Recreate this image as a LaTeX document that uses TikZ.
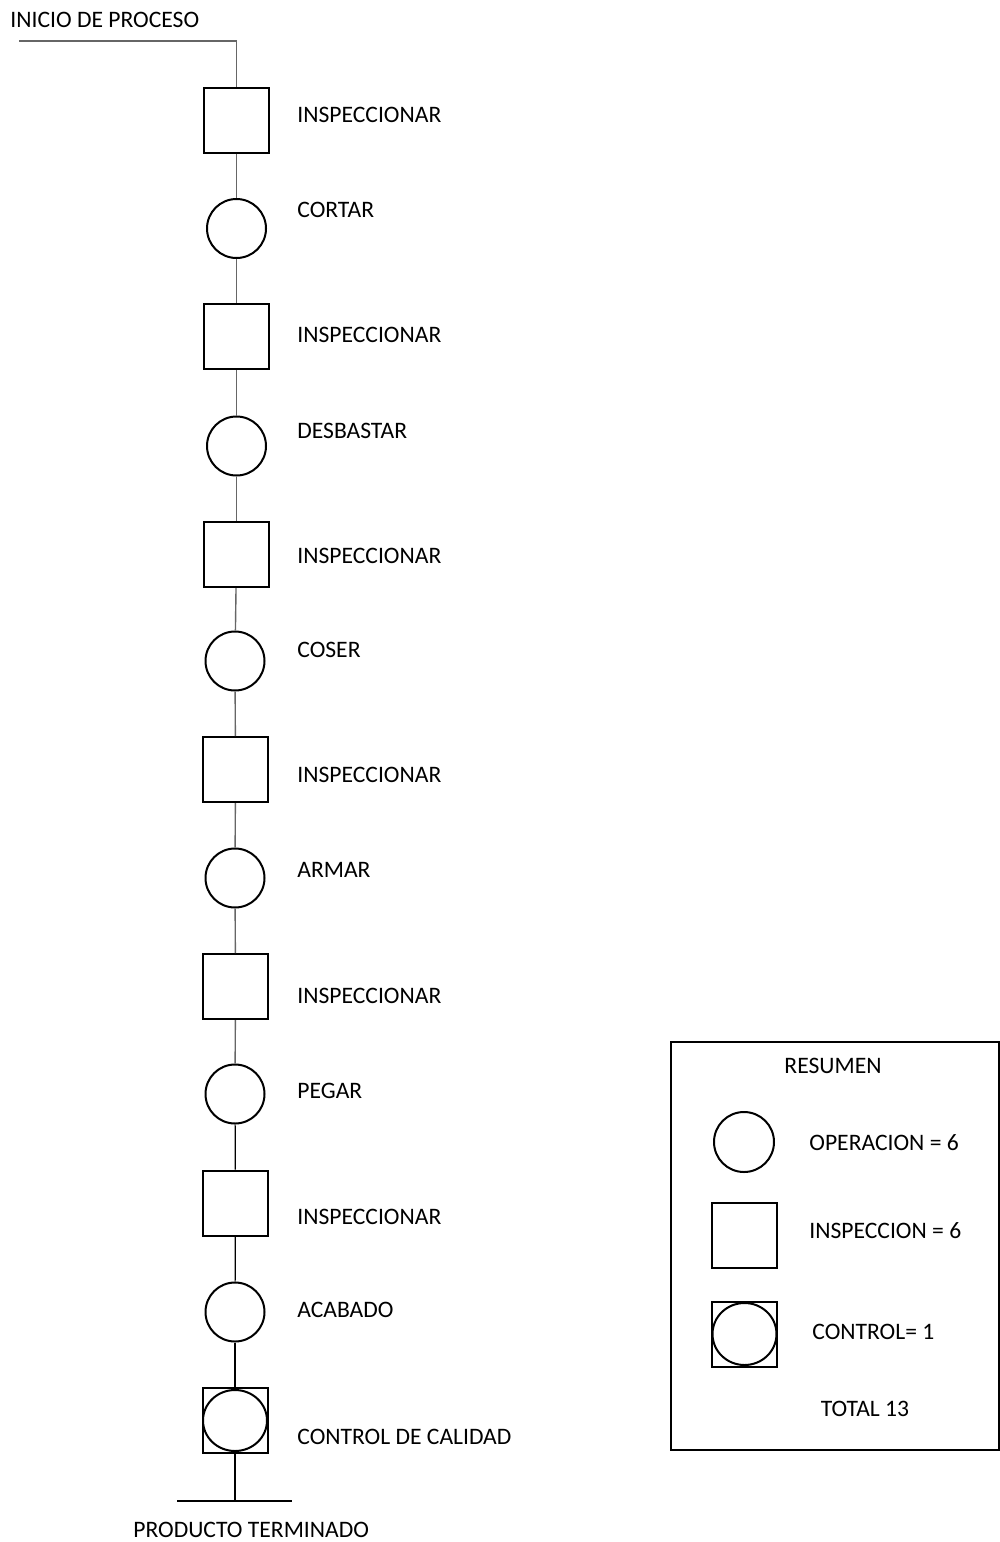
\documentclass[tikz,border=0pt]{standalone}
\usepackage{fontspec}
\setmainfont{Carlito}
\usetikzlibrary{shapes.geometric}
\begin{document}
\begin{tikzpicture}[x=0.5pt,y=-0.5pt,
  insp/.style={draw=black,line width=1pt,rectangle,minimum size=32.5pt,inner sep=0pt},
  oper/.style={draw=black,line width=1pt,circle,minimum size=29.5pt,inner sep=0pt},
  ctrlell/.style={draw=black,line width=1pt,ellipse,minimum width=32pt,minimum height=30.5pt,inner sep=0pt},
  lbl/.style={anchor=base west,inner sep=0pt,font=\fontsize{11.8}{14}\selectfont},
  lblc/.style={anchor=base,inner sep=0pt,font=\fontsize{11.8}{14}\selectfont},
  conng/.style={draw=black!60,line width=0.7pt},
  connk/.style={draw=black,line width=0.6pt},
  legbox/.style={draw=black,line width=1pt}]
\useasboundingbox (0,0) rectangle (1000,1542);
% flow nodes
\node[insp] (s1) at (236.5,120) {};
\node[oper] (c1) at (236.5,228.5) {};
\node[insp] (s2) at (236.5,336.5) {};
\node[oper] (c2) at (236.5,446) {};
\node[insp] (s3) at (236.5,554.5) {};
\node[oper] (c3) at (235,661) {};
\node[insp] (s4) at (235.5,769.5) {};
\node[oper] (c4) at (235,878) {};
\node[insp] (s5) at (235.5,986.5) {};
\node[oper] (c5) at (235,1094) {};
\node[insp] (s6) at (235.5,1203) {};
\node[oper] (c6) at (235,1312) {};
\node[insp] (ctrl) at (235,1420.5) {};
\node[ctrlell] (ctrle) at (235,1420.5) {};
% labels
\node[lbl] (t0) at (10,27.5) {INICIO DE PROCESO};
\node[lbl] (t1) at (297,122.5) {INSPECCIONAR};
\node[lbl] (t2) at (297,217.5) {CORTAR};
\node[lbl] (t3) at (297,342.5) {INSPECCIONAR};
\node[lbl] (t4) at (297,438) {DESBASTAR};
\node[lbl] (t5) at (297,563) {INSPECCIONAR};
\node[lbl] (t6) at (297,657.5) {COSER};
\node[lbl] (t7) at (297,782.5) {INSPECCIONAR};
\node[lbl] (t8) at (297,877.5) {ARMAR};
\node[lbl] (t9) at (297,1003.5) {INSPECCIONAR};
\node[lbl] (t10) at (297,1098.5) {PEGAR};
\node[lbl] (t11) at (297,1224.5) {INSPECCIONAR};
\node[lbl] (t12) at (297,1317.5) {ACABADO};
\node[lbl] (t13) at (297,1444.5) {CONTROL DE CALIDAD};
\node[lbl] (t14) at (133,1537.5) {PRODUCTO TERMINADO};
% connectors
\coordinate (start) at (19,41);
\coordinate (corner) at (236.5,41);
\coordinate (endp) at (235,1501);
\coordinate (endl) at (177,1501);
\coordinate (endr) at (292,1501);
\draw[conng] (start) -- (corner) -- (s1.north);
\draw[conng] (s1) -- (c1);
\draw[conng] (c1) -- (s2);
\draw[conng] (s2) -- (c2);
\draw[conng] (c2) -- (s3);
\draw[conng] (s3) -- (c3);
\draw[conng] (c3) -- (s4);
\draw[conng] (s4) -- (c4);
\draw[conng] (c4) -- (s5);
\draw[conng] (s5) -- (c5);
\draw[connk] (c5) -- (s6);
\draw[connk] (s6) -- (c6);
\draw[connk] (c6) -- (ctrl);
\draw[black,line width=1.1pt] (ctrl.south) -- (endp);
\draw[black,line width=0.7pt] (endl) -- (endr);
% legend
\node[legbox,rectangle,minimum width=164pt,minimum height=204pt,inner sep=0pt] (leg) at (835,1246) {};
\node[lblc] (lt) at (833,1073.5) {RESUMEN};
\node[oper,minimum size=30pt] (lc) at (744,1142) {};
\node[lbl] (lct) at (809,1150.5) {OPERACION = 6};
\node[insp] (ls) at (744.5,1235) {};
\node[lbl] (lst) at (809,1238.5) {INSPECCION = 6};
\node[insp] (lk) at (744.5,1334.5) {};
\node[ctrlell,minimum height=31pt] (lke) at (744.5,1334) {};
\node[lbl] (lkt) at (812,1339.5) {CONTROL= 1};
\node[lblc] (ltot) at (865,1416.5) {TOTAL 13};
\end{tikzpicture}
\end{document}
